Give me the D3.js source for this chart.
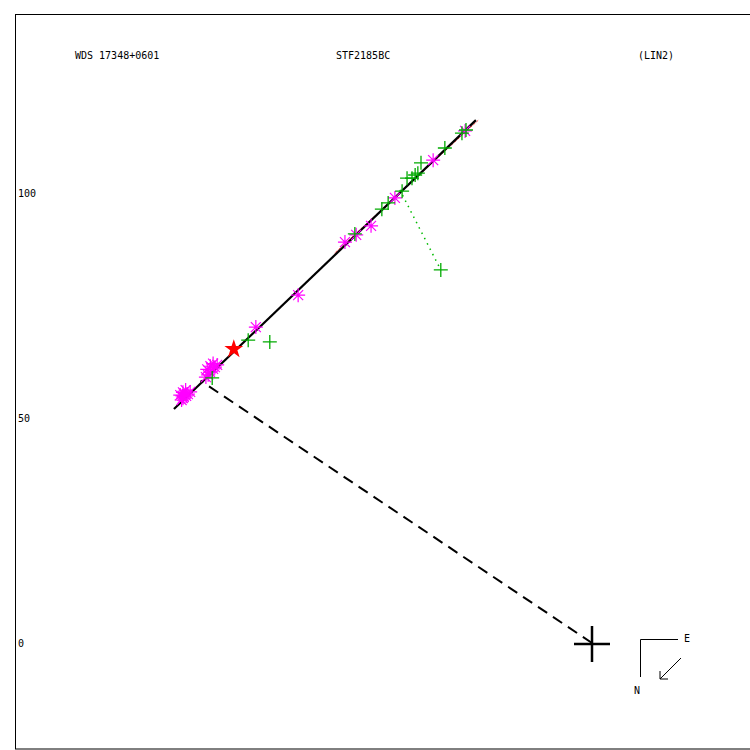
<!DOCTYPE html>
<html><head><meta charset="utf-8">
<script src="https://cdn.jsdelivr.net/npm/d3@7"></script>
<style>body{margin:0;background:#fff}svg{display:block}text{font-family:"DejaVu Sans Mono",monospace;font-size:10px;fill:#000}</style>
</head><body><svg id="c" width="750" height="750"></svg>
<script>
// header texts
const titles = [["WDS 17348+0601", 75], ["STF2185BC", 336], ["(LIN2)", 638]];
const yTicks = [0, 50, 100];
// orbit line (linear ephemeris) endpoints, units
const orbitLine = [[-92.9, 52.0], [-25.8, 116.2]];
// dashed line from primary
const dashLine = [[0, 0], [-87.0, 58.3]];
// residual dotted green
const greenResid = [[-42.7, 100.7], [-33.6, 82.9]];
// red residual strip
const redResid = [[-57.5, 87.0], [-25.5, 116.6]];
// green + observations
const greenObs = [[-71.6, 66.9], [-76.4, 67.3], [-33.6, 82.9], [-84.4, 58.9], [-52.7, 90.9], [-46.7, 96.4], [-45.3, 97.8], [-42.2, 100.4], [-41.1, 103.3], [-40.0, 103.3], [-39.3, 104.0], [-38.7, 104.4], [-38.0, 106.7], [-32.7, 110.0], [-28.9, 113.3], [-28.0, 114.0]];
// magenta asterisk observations
const magentaObs = [[-65.3, 77.3], [-74.7, 70.2], [-54.9, 89.1], [-52.4, 90.7], [-49.1, 92.7], [-43.8, 98.9], [-35.3, 107.3], [-28.2, 113.8],
  [-90.9, 54.4], [-90.7, 54.7], [-90.2, 54.9], [-89.8, 55.3], [-89.3, 55.8], [-91.2, 54.0],
  [-91.5, 55.1], [-90.9, 55.7], [-90.3, 56.2], [-91.0, 54.9],
  [-85.8, 59.1], [-84.9, 60.2], [-84.2, 60.9], [-83.8, 61.3], [-83.3, 61.8], [-85.3, 59.6],
  [-85.5, 60.8], [-84.8, 61.5], [-84.2, 62.1]];
// red star
const redStar = [[-79.6, 65.3]];
const primary = [0, 0];

const svg = d3.select("#c");
const x = d3.scaleLinear().domain([-100, 0]).range([142, 592]);
const y = d3.scaleLinear().domain([0, 100]).range([643, 193]);

svg.append("rect").attr("x", 15.5).attr("y", 14.5).attr("width", 740).attr("height", 734.5)
  .attr("fill", "none").attr("stroke", "#000").attr("stroke-width", 1);

svg.selectAll("text.title").data(titles).join("text").attr("class", "title")
  .attr("x", d => d[1]).attr("y", 59).text(d => d[0]);

const ax = svg.append("g").attr("transform", "translate(15,0)")
  .call(d3.axisRight(y).tickValues(yTicks).tickSize(0).tickPadding(3).tickFormat(d3.format("d")));
ax.select(".domain").remove();
ax.selectAll("text").attr("fill", "#000").style("font-family", "DejaVu Sans Mono, monospace").style("font-size", "10px");

const line = d3.line().x(d => x(d[0])).y(d => y(d[1]));

svg.append("path").attr("d", line(redResid)).attr("transform", "translate(1.5,1.5)")
  .attr("stroke", "#f00").attr("stroke-width", 1).attr("stroke-dasharray", "1,1").attr("fill", "none");
svg.append("path").attr("d", line(orbitLine)).attr("stroke", "#000").attr("stroke-width", 2.2).attr("fill", "none");
svg.append("path").attr("d", line(dashLine)).attr("stroke", "#000").attr("stroke-width", 2)
  .attr("stroke-dasharray", "11,7").attr("fill", "none");
svg.append("path").attr("d", line(greenResid)).attr("stroke", "#0b0").attr("stroke-width", 1.5)
  .attr("stroke-dasharray", "1.5,4.5").attr("fill", "none");

// magenta asterisks
const ast = "M-7,0H7M0,-7V7M-5,-5L5,5M-5,5L5,-5";
svg.selectAll("path.mag").data(magentaObs).join("path").attr("class", "mag")
  .attr("transform", d => `translate(${x(d[0])},${y(d[1])})`).attr("d", ast)
  .attr("stroke", "#f0f").attr("stroke-width", 1.2).attr("fill", "none");

// green plus
svg.selectAll("path.grn").data(greenObs).join("path").attr("class", "grn")
  .attr("transform", d => `translate(${x(d[0])},${y(d[1])})`).attr("d", "M-7,0H7M0,-7V7")
  .attr("stroke", "#0a0").attr("stroke-width", 1.3).attr("fill", "none");

// red star
svg.selectAll("path.star").data(redStar).join("path").attr("class", "star")
  .attr("transform", d => `translate(${x(d[0])},${y(d[1])})`)
  .attr("d", d3.symbol().type(d3.symbolStar).size(110)).attr("fill", "#f00");

// primary
svg.append("path").attr("transform", `translate(${x(primary[0])},${y(primary[1]) + 1})`)
  .attr("d", "M-18,0H18M0,-18V18").attr("stroke", "#000").attr("stroke-width", 2.5);

// compass
const cg = svg.append("g");
cg.append("path").attr("d", "M640.5,677V639.5H678").attr("stroke", "#000").attr("fill", "none");
cg.append("text").attr("x", 684).attr("y", 642).text("E");
cg.append("text").attr("x", 634).attr("y", 694).text("N");
cg.append("path").attr("d", "M681,658L660,679M660,679V671M660,679H668").attr("stroke", "#000").attr("fill", "none");
</script></body></html>
